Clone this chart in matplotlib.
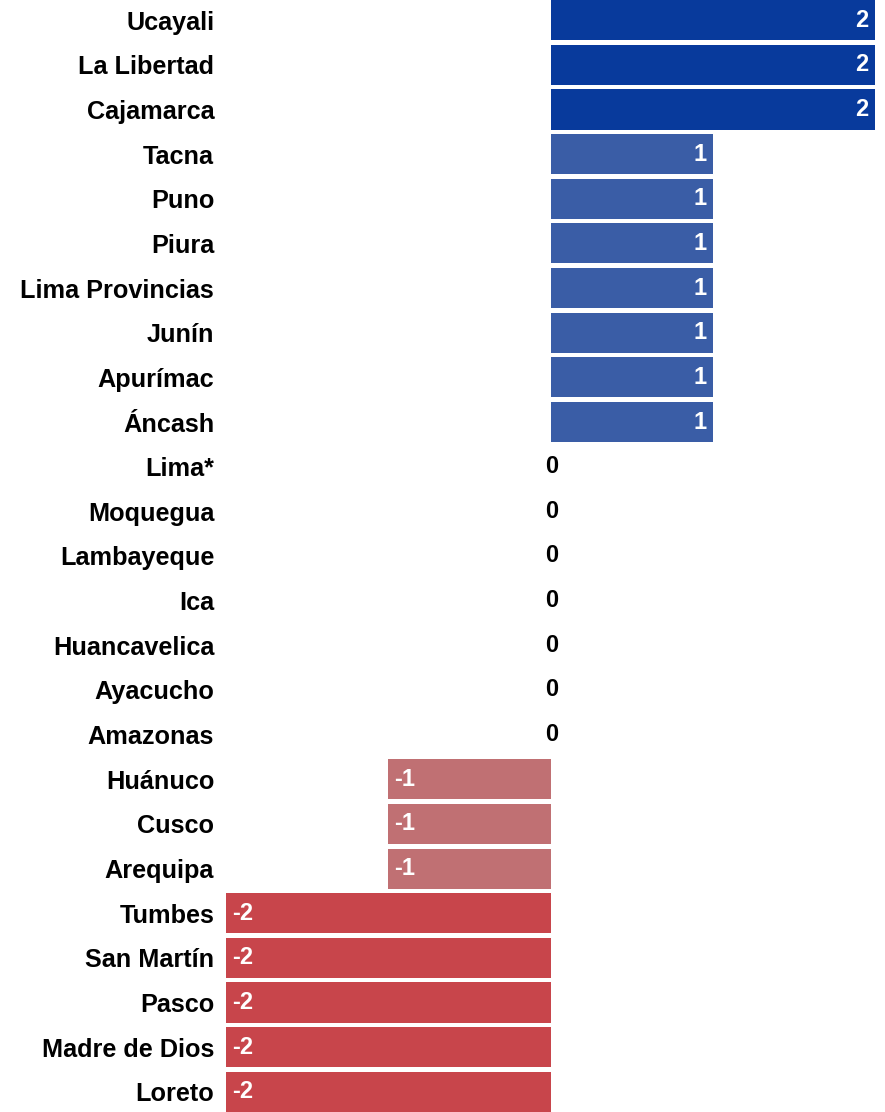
import matplotlib
matplotlib.use("Agg")
import matplotlib.pyplot as plt

plt.rcParams['font.family'] = ['Liberation Sans', 'DejaVu Sans']

regions = ["Ucayali", "La Libertad", "Cajamarca", "Tacna", "Puno", "Piura",
           "Lima Provincias", "Junín", "Apurímac", "Áncash", "Lima*", "Moquegua",
           "Lambayeque", "Ica", "Huancavelica", "Ayacucho", "Amazonas", "Huánuco",
           "Cusco", "Arequipa", "Tumbes", "San Martín", "Pasco", "Madre de Dios", "Loreto"]
values = [2, 2, 2, 1, 1, 1, 1, 1, 1, 1, 0, 0, 0, 0, 0, 0, 0, -1, -1, -1, -2, -2, -2, -2, -2]

color_map = {2: "#083a9c", 1: "#3a5da6", 0: "#ffffff", -1: "#c07073", -2: "#c8454b"}

fig = plt.figure(figsize=(8.85, 11.12), dpi=100)
ax = fig.add_axes([226/885, 0, (875-226)/885, 1])

n = len(regions)
ypos = list(range(n - 1, -1, -1))
colors = [color_map[v] for v in values]
ax.barh(ypos, values, height=0.9, color=colors)

ax.set_xlim(-2, 2)
ax.set_ylim(-0.45, n - 0.55)
ax.set_yticks(ypos)
ax.set_yticklabels(regions, fontsize=18.2, fontweight='bold')
ax.tick_params(axis='y', length=0, pad=8.5)
ax.set_xticks([])
for s in ax.spines.values():
    s.set_visible(False)

for y, v in zip(ypos, values):
    if v > 0:
        ax.text(v - 0.04, y, str(v), ha='right', va='center', color='white',
                fontsize=17, fontweight='bold')
    elif v < 0:
        ax.text(v + 0.035, y, str(v), ha='left', va='center', color='white',
                fontsize=17, fontweight='bold')
    else:
        ax.text(0.005, y, "0", ha='center', va='center', color='black',
                fontsize=17, fontweight='bold')

fig.savefig("out.png", dpi=100)
